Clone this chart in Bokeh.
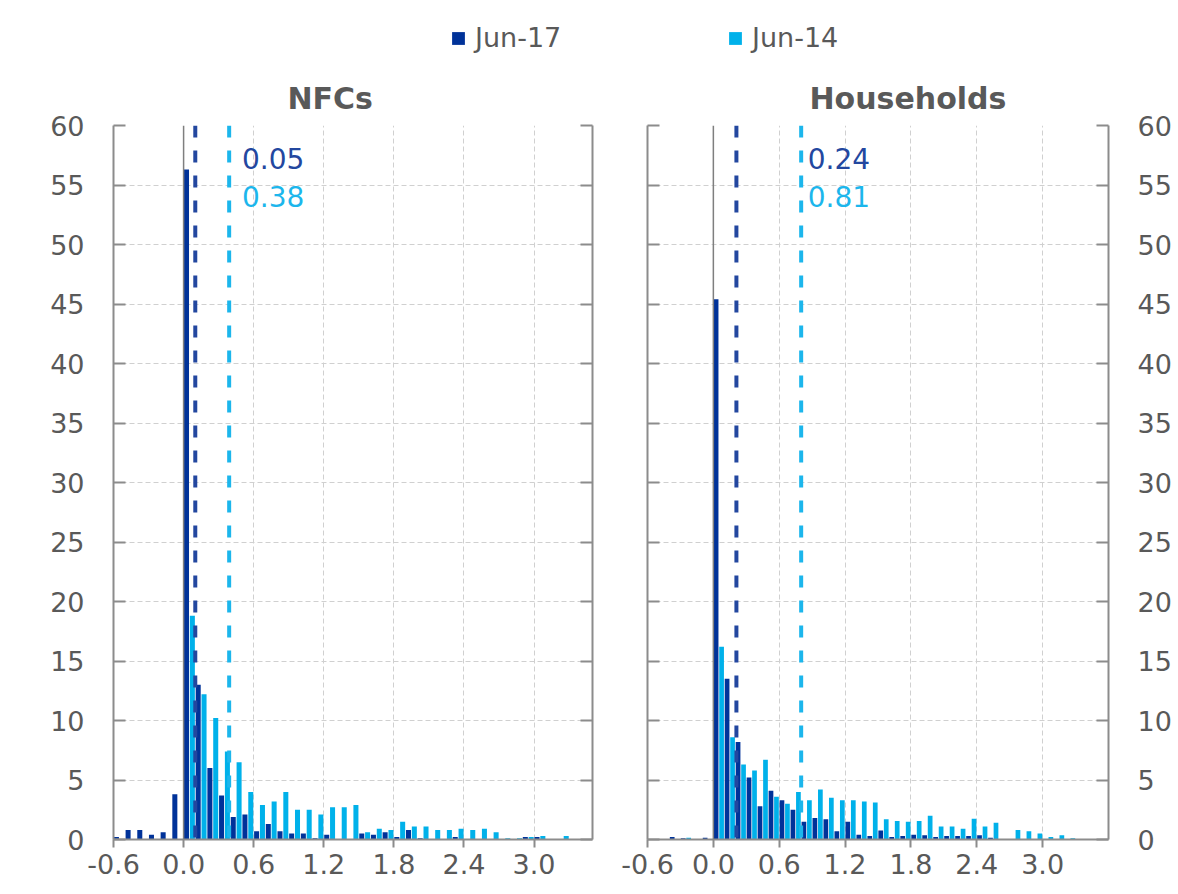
from bokeh.plotting import figure
from bokeh.layouts import column, row
from bokeh.models import (FixedTicker, LinearAxis, Span, Legend, LegendItem,
                          NumeralTickFormatter, Range1d, ColumnDataSource)
from bokeh.core.properties import value
from bokeh.embed import file_html
from bokeh.resources import INLINE

# ---------------- data ----------------
series_names = ["Jun-17", "Jun-14"]
panel_titles = ["NFCs", "Households"]

# left edge of each 0.1-wide bin
bins_nfc = [-0.6, -0.5, -0.4, -0.3, -0.2, -0.1, 0.0, 0.1, 0.2, 0.3, 0.4, 0.5, 0.6, 0.7,
            0.8, 0.9, 1.0, 1.1, 1.2, 1.3, 1.4, 1.5, 1.6, 1.7, 1.8, 1.9, 2.0, 2.1, 2.2,
            2.3, 2.4, 2.5, 2.6, 2.7, 2.8, 2.9, 3.0, 3.1, 3.2, 3.3, 3.4]
nfc_jun17 = [0.2, 0.8, 0.8, 0.4, 0.6, 3.8, 56.3, 13.0, 6.0, 3.7, 1.9, 2.1, 0.7, 1.3,
             0.7, 0.5, 0.5, 0.1, 0.4, 0.0, 0.0, 0.5, 0.4, 0.6, 0.2, 0.8, 0.1, 0.0, 0.0,
             0.2, 0.0, 0.0, 0.0, 0.0, 0.0, 0.2, 0.2, 0.0, 0.0, 0.0, 0.0]
nfc_jun14 = [0.0, 0.0, 0.0, 0.0, 0.0, 0.0, 18.8, 12.2, 10.2, 7.4, 6.5, 4.0, 2.9, 3.2,
             4.0, 2.5, 2.5, 2.1, 2.7, 2.7, 2.9, 0.6, 0.9, 0.8, 1.5, 1.1, 1.1, 0.8, 0.8,
             0.9, 0.8, 0.9, 0.6, 0.1, 0.1, 0.2, 0.3, 0.0, 0.3, 0.0, 0.0]

bins_hh = [-0.6, -0.5, -0.4, -0.3, -0.2, -0.1, 0.0, 0.1, 0.2, 0.3, 0.4, 0.5, 0.6, 0.7,
           0.8, 0.9, 1.0, 1.1, 1.2, 1.3, 1.4, 1.5, 1.6, 1.7, 1.8, 1.9, 2.0, 2.1, 2.2,
           2.3, 2.4, 2.5, 2.6, 2.7, 2.8, 2.9, 3.0, 3.1, 3.2, 3.3, 3.4, 3.5]
hh_jun17 = [0.0, 0.0, 0.2, 0.1, 0.0, 0.15, 45.4, 13.5, 8.2, 5.2, 2.8, 4.1, 3.3, 2.5,
            1.5, 1.8, 1.7, 0.7, 1.5, 0.4, 0.3, 0.75, 0.2, 0.3, 0.4, 0.35, 0.2, 0.3, 0.3,
            0.3, 0.35, 0.15, 0.05, 0.0, 0.0, 0.0, 0.0, 0.0, 0.0, 0.0, 0.0, 0.0]
hh_jun14 = [0.0, 0.0, 0.0, 0.15, 0.0, 0.0, 16.2, 8.6, 6.3, 5.8, 6.7, 3.6, 3.0, 4.0,
            3.3, 4.2, 3.5, 3.3, 3.3, 3.2, 3.1, 1.7, 1.55, 1.5, 1.55, 2.0, 1.1, 1.1, 0.9,
            1.75, 1.1, 1.4, 0.05, 0.8, 0.7, 0.5, 0.2, 0.35, 0.1, 0.0, 0.0, 0.0]

# median markers (line positions as drawn) and their printed values
nfc_median_lines = [0.1, 0.39]
nfc_median_labels = ["0.05", "0.38"]
hh_median_lines = [0.21, 0.8]
hh_median_labels = ["0.24", "0.81"]

x_ticks = [-0.6, 0.0, 0.6, 1.2, 1.8, 2.4, 3.0]
x_grid = [0.6, 1.2, 1.8, 2.4, 3.0]
y_ticks = [0, 5, 10, 15, 20, 25, 30, 35, 40, 45, 50, 55, 60]
y_grid = [5, 10, 15, 20, 25, 30, 35, 40, 45, 50, 55, 60]

# ---------------- style ----------------
DARK = "#003299"
LIGHT = "#00B1EA"
DARK_LINE = "#23479F"
LIGHT_LINE = "#1CB6EC"
TXT = "#595959"
AXC = "#8C8C8C"
GRID = "#D0D0D0"
FONT = "DejaVu Sans"
FS = "27px"


def style_axis(ax, labels=True):
    ax.axis_line_color = AXC
    ax.axis_line_width = 2
    ax.major_tick_line_color = AXC
    ax.major_tick_line_width = 2
    ax.minor_tick_line_color = None
    ax.major_label_text_font = FONT
    if labels:
        ax.major_label_text_color = TXT
        ax.major_label_text_font_size = FS
    else:
        ax.major_label_text_color = None
        ax.major_label_text_font_size = "1px"


def make_panel(title, bins, s17, s14, xmax, med_lines, med_labels, label_x,
               side, width, b_left, b_right, title_offset):
    p = figure(width=width, height=817, x_range=Range1d(-0.6, xmax),
               y_range=Range1d(0, 60), toolbar_location=None, output_backend="svg",
               y_axis_location=side, min_border_left=b_left, min_border_right=b_right,
               min_border_top=56, min_border_bottom=47)
    p.outline_line_color = None
    p.background_fill_color = "white"
    p.border_fill_color = "white"

    p.title.text = title
    p.title.text_font = FONT
    p.title.text_font_size = "30px"
    p.title.text_font_style = "bold"
    p.title.text_color = TXT
    p.title.align = "left"
    p.title.offset = title_offset
    p.title.standoff = 19

    # grids
    p.xgrid.ticker = FixedTicker(ticks=x_grid)
    p.ygrid.ticker = FixedTicker(ticks=y_grid)
    for g in (p.xgrid, p.ygrid):
        g.grid_line_color = GRID
        g.grid_line_dash = "5 3"
        g.grid_line_width = 1

    # x axis
    xa = p.xaxis[0]
    xa.ticker = FixedTicker(ticks=x_ticks)
    xa.formatter = NumeralTickFormatter(format="0.0")
    style_axis(xa)
    xa.major_tick_in = 0
    xa.major_tick_out = 8
    xa.major_label_standoff = 6

    # main y axis
    ya = p.yaxis[0]
    ya.ticker = FixedTicker(ticks=y_ticks)
    style_axis(ya)
    ya.major_tick_in = 12
    ya.major_tick_out = 0
    ya.major_label_standoff = 29

    # mirrored y axis without labels
    other = "right" if side == "left" else "left"
    ya2 = LinearAxis(ticker=FixedTicker(ticks=y_ticks))
    style_axis(ya2, labels=False)
    ya2.major_tick_in = 12
    ya2.major_tick_out = 0
    ya2.major_label_standoff = 0
    p.add_layout(ya2, other)

    # zero line
    p.add_layout(Span(location=0, dimension="height", line_color="#7F7F7F",
                      line_width=1.5))

    src = ColumnDataSource(dict(
        x17=[b + 0.025 for b in bins], x14=[b + 0.075 for b in bins],
        s17=s17, s14=s14))
    p.vbar(x="x17", top="s17", width=0.043, source=src,
           fill_color=DARK, line_color=None)
    p.vbar(x="x14", top="s14", width=0.043, source=src,
           fill_color=LIGHT, line_color=None)

    # median lines
    for loc, col in zip(med_lines, [DARK_LINE, LIGHT_LINE]):
        p.add_layout(Span(location=loc, dimension="height", line_color=col,
                          line_width=4, line_dash="12 13"))

    p.text(x=[label_x, label_x], y=[57.2, 54.0], text=med_labels,
           text_color=[DARK_LINE, LIGHT_LINE], text_font=value(FONT),
           text_font_size="28px", text_align="left", text_baseline="middle")
    return p


p1 = make_panel(panel_titles[0], bins_nfc, nfc_jun17, nfc_jun14, 3.5,
                nfc_median_lines, nfc_median_labels, 0.5,
                "left", 610, 113, 18, 174)
p2 = make_panel(panel_titles[1], bins_hh, hh_jun17, hh_jun14, 3.6,
                hh_median_lines, hh_median_labels, 0.86,
                "right", 564, 37, 65, 162)

# legend strip
lg = figure(width=1174, height=69, x_range=(0, 1), y_range=(0, 1),
            toolbar_location=None, output_backend="svg", min_border=0)
lg.axis.visible = False
lg.grid.visible = False
lg.outline_line_color = None
colors = [DARK, LIGHT]
xs = [450, 727]
for name, col, lx in zip(series_names, colors, xs):
    r = lg.vbar(x=[0.5], top=[0], bottom=[0], width=0.0, fill_color=col,
                line_color=None)
    leg = Legend(items=[LegendItem(label=name, renderers=[r])], location=(lx, 16),
                 orientation="horizontal", border_line_color=None,
                 background_fill_alpha=0, padding=0, margin=0, glyph_width=16,
                 glyph_height=16, label_standoff=9, label_text_font=FONT,
                 label_text_font_size=FS, label_text_color=TXT, label_height=30)
    lg.add_layout(leg)

layout = column(lg, row(p1, p2))
open("out.html", "w").write(file_html(layout, INLINE))
